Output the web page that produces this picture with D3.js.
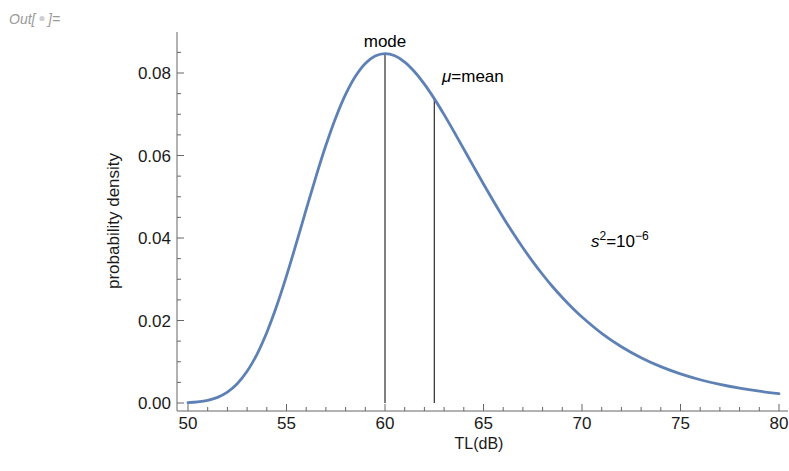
<!DOCTYPE html>
<html>
<head>
<meta charset="utf-8">
<script src="https://cdn.jsdelivr.net/npm/d3@7"></script>
<style>
  html, body { margin: 0; padding: 0; background: #fff; }
  svg { display: block; }
  text { font-family: "Liberation Sans", Arial, sans-serif; }
</style>
</head>
<body>
<script>
// ---- data ----
const tlValues = [50, 50.5, 51, 51.5, 52, 52.5, 53, 53.5, 54, 54.5, 55, 55.5, 56, 56.5, 57, 57.5,
  58, 58.5, 59, 59.5, 60, 60.5, 61, 61.5, 62, 62.5, 63, 63.5, 64, 64.5, 65, 65.5, 66, 66.5,
  67, 67.5, 68, 68.5, 69, 69.5, 70, 71, 72, 73, 74, 75, 76, 77, 78, 79, 80];
const densityValues = [0.0001, 0.00028, 0.00065, 0.00137, 0.00264, 0.00468, 0.00768, 0.01181,
  0.01711, 0.02351, 0.03082, 0.03874, 0.04692, 0.05495, 0.06247, 0.06917, 0.07480, 0.07921,
  0.08232, 0.08413, 0.08471, 0.08417, 0.08265, 0.08031, 0.07730, 0.07379, 0.06991, 0.06580,
  0.06156, 0.05730, 0.05308, 0.04896, 0.04499, 0.04121, 0.03763, 0.03428, 0.03115, 0.02824,
  0.02556, 0.02309, 0.02084, 0.01689, 0.01364, 0.01098, 0.00881, 0.00706, 0.00564, 0.00450,
  0.00359, 0.00286, 0.00228];
const modeValue = { x: 60, y: 0.08471 };
const meanValue = { x: 62.5, y: 0.07379 };
const xTicks = [50, 55, 60, 65, 70, 75, 80];
const yTicks = [0.00, 0.02, 0.04, 0.06, 0.08];

// ---- layout ----
const W = 789, H = 471;
const svg = d3.select("body").append("svg").attr("width", W).attr("height", H);

const x = d3.scaleLinear().domain([50, 80]).range([188, 779]);
const y = d3.scaleLinear().domain([0, 0.08]).range([403, 73]);
const axisColor = "#666";
const textColor = "#1a1a1a";
const axisX0 = 177, axisY0 = 411;
const FS = 17;

// Out[ ]= label
const outG = svg.append("g");
outG.append("text").attr("x", 9).attr("y", 24).attr("font-size", 14).attr("font-style", "italic")
  .attr("fill", "#9a9a9a").text("Out[");
outG.append("circle").attr("cx", 42).attr("cy", 18.5).attr("r", 2.6).attr("fill", "#cfcfcf");
outG.append("text").attr("x", 48).attr("y", 24).attr("font-size", 14).attr("font-style", "italic")
  .attr("fill", "#9a9a9a").text("]=");

// axes lines
svg.append("line").attr("x1", axisX0).attr("x2", 788).attr("y1", axisY0).attr("y2", axisY0)
  .attr("stroke", axisColor).attr("stroke-width", 1);
svg.append("line").attr("x1", axisX0).attr("x2", axisX0).attr("y1", 32).attr("y2", axisY0)
  .attr("stroke", axisColor).attr("stroke-width", 1);

// x ticks
const xMinor = d3.range(50, 81, 1).filter(v => v % 5 !== 0);
svg.append("g").selectAll("line.minor").data(xMinor).join("line")
  .attr("x1", d => x(d)).attr("x2", d => x(d)).attr("y1", axisY0).attr("y2", axisY0 - 4)
  .attr("stroke", axisColor);
svg.append("g").selectAll("line.major").data(xTicks).join("line")
  .attr("x1", d => x(d)).attr("x2", d => x(d)).attr("y1", axisY0).attr("y2", axisY0 - 7)
  .attr("stroke", axisColor);
svg.append("g").selectAll("text").data(xTicks).join("text")
  .attr("x", d => x(d)).attr("y", 429).attr("text-anchor", "middle")
  .attr("font-size", FS).attr("fill", textColor).text(d => d);

// y ticks
const yMinor = d3.range(0, 18).map(i => i * 0.005).filter((v, i) => i % 4 !== 0);
svg.append("g").selectAll("line").data(yMinor).join("line")
  .attr("x1", axisX0).attr("x2", axisX0 + 4).attr("y1", d => y(d)).attr("y2", d => y(d))
  .attr("stroke", axisColor);
svg.append("g").selectAll("line").data(yTicks).join("line")
  .attr("x1", axisX0).attr("x2", axisX0 + 7).attr("y1", d => y(d)).attr("y2", d => y(d))
  .attr("stroke", axisColor);
svg.append("g").selectAll("text").data(yTicks).join("text")
  .attr("x", 171).attr("y", d => y(d) + 6).attr("text-anchor", "end")
  .attr("font-size", FS).attr("fill", textColor).text(d => d3.format(".2f")(d));

// axis labels
svg.append("text").attr("x", 479).attr("y", 449).attr("text-anchor", "middle")
  .attr("font-size", 16).attr("fill", textColor).text("TL(dB)");
svg.append("text").attr("transform", "translate(119,221) rotate(-90)").attr("text-anchor", "middle")
  .attr("font-size", FS).attr("fill", textColor).text("probability density");

// mode & mean lines
svg.append("line").attr("x1", x(modeValue.x)).attr("x2", x(modeValue.x))
  .attr("y1", y(0)).attr("y2", y(modeValue.y)).attr("stroke", "#000").attr("stroke-width", 1);
svg.append("line").attr("x1", x(meanValue.x)).attr("x2", x(meanValue.x))
  .attr("y1", y(0)).attr("y2", y(meanValue.y)).attr("stroke", "#000").attr("stroke-width", 1);

// curve
const pts = tlValues.map((t, i) => [t, densityValues[i]]);
svg.append("path").datum(pts)
  .attr("d", d3.line().x(d => x(d[0])).y(d => y(d[1])).curve(d3.curveCatmullRom))
  .attr("fill", "none").attr("stroke", "#5E81B5").attr("stroke-width", 2.8)
  .attr("stroke-linecap", "round");

// annotations
svg.append("text").attr("x", x(modeValue.x)).attr("y", 47).attr("text-anchor", "middle")
  .attr("font-size", FS).attr("fill", "#000").text("mode");
const mt = svg.append("text").attr("x", 442).attr("y", 82).attr("font-size", FS).attr("fill", "#000");
mt.append("tspan").attr("font-style", "italic").text("μ");
mt.append("tspan").text("=mean");
const st = svg.append("text").attr("x", 591).attr("y", 247).attr("font-size", FS).attr("fill", "#000");
st.append("tspan").attr("font-style", "italic").text("s");
st.append("tspan").attr("font-size", 12).attr("dy", -7).text("2");
st.append("tspan").attr("dy", 7).text("=10");
st.append("tspan").attr("font-size", 12).attr("dy", -7).text("−6");
</script>
</body>
</html>
